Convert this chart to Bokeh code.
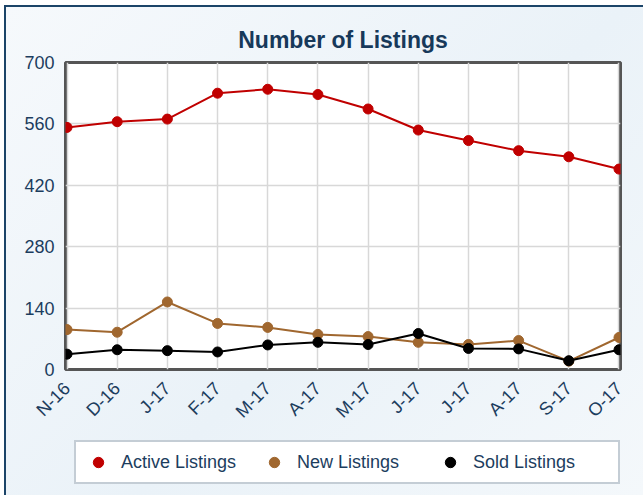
from bokeh.plotting import figure
from bokeh.layouts import column
from bokeh.models import Range1d, FixedTicker, Legend, LegendItem, ColumnDataSource
from bokeh.embed import file_html
from bokeh.resources import INLINE
import math

months = ["N-16", "D-16", "J-17", "F-17", "M-17", "A-17", "M-17", "J-17", "J-17", "A-17", "S-17", "O-17"]
active = [552, 565, 571, 630, 639, 627, 594, 546, 522, 499, 485, 457]
new = [91, 85, 154, 105, 96, 80, 75, 62, 57, 66, 19, 73]
sold = [35, 45, 43, 40, 56, 62, 57, 82, 48, 47, 20, 45]
y_ticks = [0, 140, 280, 420, 560, 700]

TXT = "#1c3d5e"
FONT = "Liberation Sans"

x = list(range(len(months)))

p = figure(width=637, height=488, output_backend="svg", toolbar_location=None,
           x_range=Range1d(-0.03, len(months) - 1 + 0.03), y_range=Range1d(0, 700),
           min_border_left=59, min_border_right=23, min_border_top=55, min_border_bottom=126)
p.border_fill_color = None
p.background_fill_color = "white"
p.outline_line_color = "#555555"
p.outline_line_width = 3

p.title.text = "Number of Listings"
p.title.text_font = FONT
p.title.text_font_size = "23px"
p.title.text_font_style = "bold"
p.title.text_color = "#17395a"
p.title.align = "center"
p.title.standoff = 19

for ax in (p.xaxis[0], p.yaxis[0]):
    ax.axis_line_color = None
    ax.major_tick_line_color = None
    ax.minor_tick_line_color = None
    ax.major_label_text_font = FONT
    ax.major_label_text_color = TXT

p.yaxis.ticker = FixedTicker(ticks=y_ticks)
p.yaxis.major_label_text_font_size = "18px"
p.yaxis.major_label_standoff = 5

p.xaxis.ticker = FixedTicker(ticks=x)
p.xaxis.major_label_overrides = {i: m for i, m in enumerate(months)}
p.xaxis.major_label_orientation = math.pi / 4
p.xaxis.major_label_text_font_size = "18px"
p.xaxis.major_label_standoff = 10

p.grid.grid_line_color = "#d8d8d8"
p.grid.grid_line_width = 1.5

src = ColumnDataSource(dict(x=x, active=active, new=new, sold=sold))
series = [("active", "Active Listings", "#c00000"),
          ("new", "New Listings", "#a0672f"),
          ("sold", "Sold Listings", "#000000")]
for key, name, color in series:
    p.line("x", key, source=src, line_color=color, line_width=2)
    p.scatter("x", key, source=src, size=10, fill_color=color, line_color=color)

# legend strip (its frame is aligned with the chart frame by the column layout)
lg = figure(width=637, height=60, output_backend="svg", toolbar_location=None,
            x_range=Range1d(0, 1), y_range=Range1d(0, 1),
            x_axis_location=None, y_axis_location=None,
            min_border_left=0, min_border_right=0, min_border_top=0, min_border_bottom=0)
lg.grid.visible = False
lg.border_fill_color = None
lg.background_fill_color = None
lg.outline_line_color = None
items = []
for key, name, color in series:
    s = lg.scatter(x=[-10], y=[-10], size=13, fill_color=color, line_color=color)
    items.append(LegendItem(label=name, renderers=[s]))
legend = Legend(items=items, orientation="horizontal", location=(9, 11),
                label_text_font=FONT, label_text_font_size="18px", label_text_color=TXT,
                glyph_width=30, glyph_height=26, label_standoff=8, label_width=138,
                spacing=0, padding=7, margin=0,
                border_line_color="#8a9cac", border_line_width=2,
                background_fill_color="white", background_fill_alpha=1)
lg.add_layout(legend, "center")
lg.styles = {"margin-top": "-60px"}

layout = column(p, lg, spacing=0)
layout.styles = {"background": "linear-gradient(135deg, #f6f9fc 0%, #eaf2f8 55%, #f4f8fb 100%)",
                 "border-left": "2px solid #1b4468", "border-top": "2px solid #1b4468",
                 "margin-left": "4px", "margin-top": "5px"}

open("out.html", "w").write(file_html(layout, INLINE))
